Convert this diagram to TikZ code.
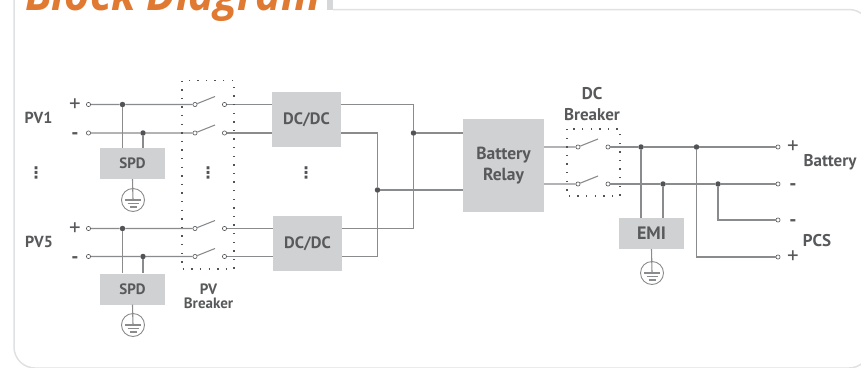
\documentclass[tikz,border=0pt]{standalone}
\usepackage{fontspec}
\setmainfont{PT Sans}
\newfontfamily\titlefont{Open Sans}
\newfontfamily\symbfont{DejaVu Sans}
\usetikzlibrary{positioning,calc}
\definecolor{framegray}{RGB}{224,225,226}
\definecolor{tabgray}{RGB}{214,215,217}
\definecolor{boxgray}{RGB}{208,209,211}
\definecolor{wiregray}{RGB}{138,139,141}
\definecolor{dotgray}{RGB}{82,83,86}
\definecolor{labelgray}{RGB}{88,89,91}
\definecolor{titleorange}{RGB}{224,122,50}
\tikzset{
  wire/.style={draw=wiregray,line width=1.1pt},
  term/.style={circle,draw=dotgray,line width=0.6pt,fill=white,inner sep=0pt,minimum size=4.2pt},
  junc/.style={circle,fill=dotgray,inner sep=0pt,minimum size=5.5pt},
  block/.style={fill=boxgray,text=labelgray,font=\bfseries\fontsize{16.5}{17}\selectfont,align=center,inner sep=0pt},
  smallblock/.style={block,minimum width=65pt,minimum height=31pt,font=\bfseries\fontsize{15}{16}\selectfont},
  lab/.style={text=labelgray,font=\bfseries\fontsize{17}{17}\selectfont,align=center,inner sep=0pt},
  plussign/.style={text=labelgray,font=\fontsize{23}{23}\selectfont,inner sep=0pt},
  minussign/.style={text=labelgray,font=\bfseries\fontsize{20}{20}\selectfont,inner sep=0pt},
  vdot/.style={text=dotgray,font=\symbfont\bfseries\fontsize{16}{16}\selectfont,inner sep=0pt},
  gnd/.style={circle,draw=wiregray,line width=0.9pt,inner sep=0pt,minimum size=23pt},
  breakerbox/.style={draw=dotgray,line width=1.1pt,dash pattern=on 1.4pt off 7.2pt},
}
\begin{document}
\begin{tikzpicture}[x=1pt,y=-1pt]
  \path[use as bounding box,clip] (0,0) rectangle (861,367);
  % frame and title
  \draw[framegray,line width=1.5pt,rounded corners=21pt] (14,-40) -- (14,368) -- (870,368) -- (870,9.5) -- (333,9.5);
  \fill[tabgray] (327,0) rectangle (333,10);
  \node[anchor=base west,inner sep=0pt,xscale=0.94,text=titleorange,font=\titlefont\bfseries\itshape\fontsize{46}{46}\selectfont] (title) at (25,10) {Block Diagram};

  % blocks
  \node[smallblock] (spdA) at (132.5,163.5) {SPD};
  \node[smallblock] (spdB) at (132.5,289) {SPD};
  \node[block,minimum width=69pt,minimum height=55pt] (dcA) at (306.5,119.5) {DC/DC};
  \node[block,minimum width=69pt,minimum height=55pt] (dcB) at (307.5,243.5) {DC/DC};
  \node[block,minimum width=81pt,minimum height=93pt,font=\bfseries\fontsize{17.5}{21}\selectfont] (relay) at (503.5,165.5) {Battery\\Relay};
  \node[smallblock,font=\bfseries\fontsize{18}{18}\selectfont] (emi) at (651.5,233.5) {EMI};
  \node[gnd] (gndA) at (133,200) {};
  \node[gnd] (gndB) at (133,325) {};
  \node[gnd] (gndC) at (652,273) {};

  % terminals and junctions on the PV side
  \foreach \n/\yp/\ym in {A/104.5/133,B/228.5/256.5} {
    \node[term] (pvp\n) at (88.5,\yp) {};
    \node[term] (pvm\n) at (88.5,\ym) {};
    \node[junc] (jp\n) at (122.5,\yp) {};
    \node[junc] (jm\n) at (143,\ym) {};
    \node[term] (sap\n) at (195,\yp) {};
    \node[term] (sam\n) at (195,\ym) {};
    \node[term] (sbp\n) at (224.5,\yp) {};
    \node[term] (sbm\n) at (224.5,\ym) {};
    \coordinate (blp\n) at (215,\yp-8);
    \coordinate (blm\n) at (215,\ym-8);
    \draw[wire] (pvp\n) -- (jp\n) -- (sap\n) -- (blp\n);
    \draw[wire] (pvm\n) -- (jm\n) -- (sam\n) -- (blm\n);
    \draw[wire] (sbp\n) -- (sbp\n -| dc\n.west);
    \draw[wire] (sbm\n) -- (sbm\n -| dc\n.west);
    \draw[wire] (jp\n) -- (jp\n |- spd\n.north);
    \draw[wire] (jm\n) -- (jm\n |- spd\n.north);
  }
  \node[junc] (jrelayA) at (413.5,133) {};
  \node[junc] (jrelayB) at (377.5,190) {};
  \draw[wire] (sbpA -| dcA.east) -| (jrelayA);
  \draw[wire] (sbpB -| dcB.east) -| (jrelayA);
  \draw[wire] (sbmA -| dcA.east) -| (jrelayB);
  \draw[wire] (sbmB -| dcB.east) -| (jrelayB);
  \draw[wire] (jrelayA) -- (jrelayA -| relay.west);
  \draw[wire] (jrelayB) -- (jrelayB -| relay.west);

  % DC breaker and outputs
  \node[term] (dsap) at (578,147) {};
  \node[term] (dsam) at (578,184) {};
  \node[term] (dsbp) at (608,147) {};
  \node[term] (dsbm) at (608,184) {};
  \coordinate (dblp) at (598,139);
  \coordinate (dblm) at (598,176);
  \node[junc] (joA) at (641,147) {};
  \node[junc] (joB) at (696.5,147) {};
  \node[junc] (joC) at (663,184) {};
  \node[junc] (joD) at (718,184) {};
  \node[term] (batp) at (778,147) {};
  \node[term] (batm) at (778,184) {};
  \node[term] (pcsm) at (778,220) {};
  \node[term] (pcsp) at (778,257) {};
  \draw[wire] (dsap -| relay.east) -- (dsap) -- (dblp);
  \draw[wire] (dsam -| relay.east) -- (dsam) -- (dblm);
  \draw[wire] (dsbp) -- (joA) -- (joB) -- (batp);
  \draw[wire] (dsbm) -- (joC) -- (joD) -- (batm);
  \draw[wire] (joA) -- (joA |- emi.north);
  \draw[wire] (joC) -- (joC |- emi.north);
  \draw[wire] (joB) |- (pcsp);
  \draw[wire] (joD) |- (pcsm);

  % ground symbols
  \foreach \b/\g in {spdA/gndA,spdB/gndB,emi/gndC} {
    \draw[wire] (\b.south) -- (\g.center);
    \draw[wire] ($(\g.center)+(-8,0)$) -- ($(\g.center)+(8,0)$);
    \draw[wire] ($(\g.center)+(-5.5,3.5)$) -- ($(\g.center)+(5.5,3.5)$);
    \draw[wire] ($(\g.center)+(-3.5,7)$) -- ($(\g.center)+(3.5,7)$);
  }

  % breaker outlines
  \draw[breakerbox] (182,80.5) rectangle (234,269);
  \draw[breakerbox] (567,129) rectangle (620,196);

  % labels
  \node[lab,font=\bfseries\fontsize{16}{16}\selectfont] (pvone) at (38.5,118) {PV1};
  \node[lab,font=\bfseries\fontsize{16}{16}\selectfont] (pvfive) at (39,242) {PV5};
  \node[plussign] (plusA) at (75,105) {+};
  \node[minussign] (minusA) at (75,136) {-};
  \node[plussign] (plusB) at (75,229.5) {+};
  \node[minussign] (minusB) at (75,260) {-};
  \node[plussign] (plusC) at (793,147.5) {+};
  \node[minussign] (minusC) at (793,187) {-};
  \node[minussign] (minusD) at (793,223) {-};
  \node[plussign] (plusD) at (793,257.5) {+};
  \node[lab] (battery) at (830,162) {Battery};
  \node[lab] (pcs) at (817,241) {PCS};
  \node[lab,font=\bfseries\fontsize{15}{14}\selectfont] (pvbrk) at (208.5,296.5) {PV\\Breaker};
  \node[lab,font=\bfseries\fontsize{17}{21}\selectfont] (dcbrk) at (592,104.5) {DC\\Breaker};
  \node[vdot] (dotsA) at (36,173) {⋮};
  \node[vdot] (dotsB) at (208,173) {⋮};
  \node[vdot] (dotsC) at (306,173) {⋮};
\end{tikzpicture}
\end{document}
